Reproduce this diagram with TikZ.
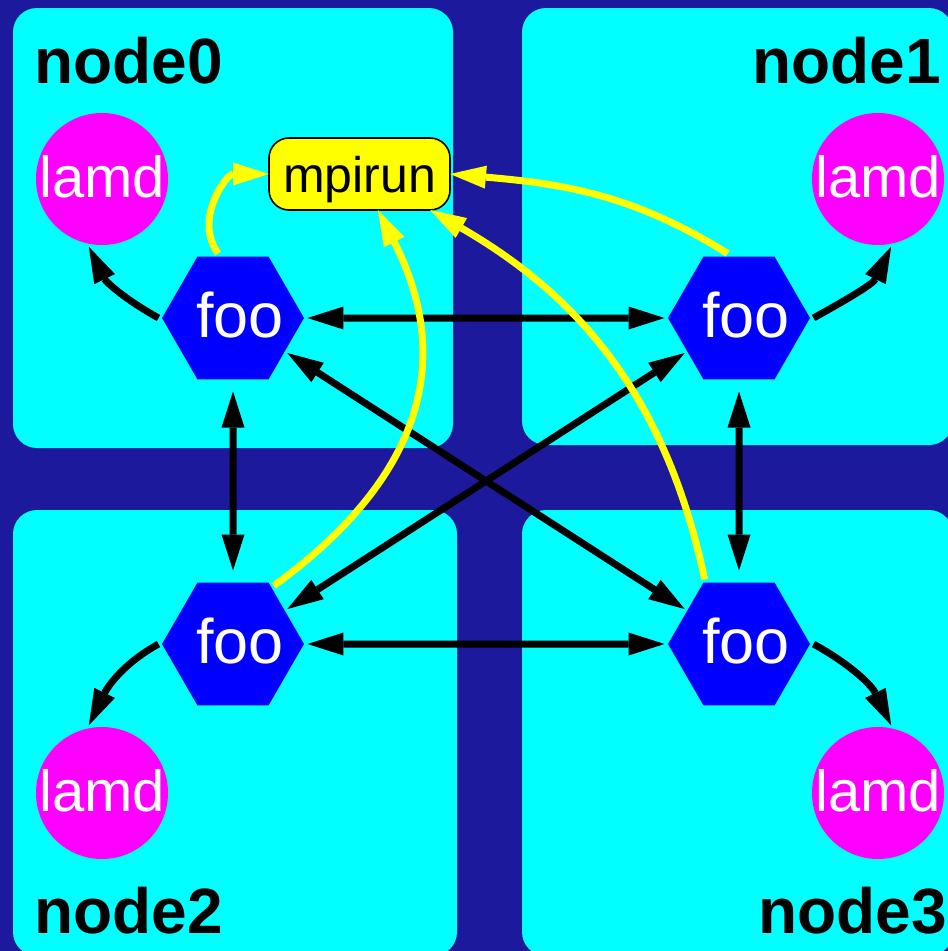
\documentclass[tikz,border=0pt]{standalone}
\usepackage{fontspec}
\setmainfont{Liberation Sans}
\usetikzlibrary{shapes.geometric,arrows.meta}
\definecolor{bgblue}{RGB}{28,25,156}
\definecolor{boxcyan}{RGB}{0,255,255}
\definecolor{lamdmag}{RGB}{255,0,255}
\definecolor{hexblue}{RGB}{0,0,255}
\definecolor{mpiyellow}{RGB}{255,255,0}
\newcommand{\footext}{\makebox[60pt]{\hspace*{14pt}foo}}
\begin{document}
\begin{tikzpicture}[x=1pt,y=1pt,
  clusterbox/.style={fill=boxcyan, draw=none, rounded corners=24pt},
  title/.style={font=\bfseries\fontsize{64}{70}\selectfont, inner sep=0pt, text=black},
  hexnode/.style={regular polygon, regular polygon sides=6, minimum size=142pt, inner sep=0pt, outer sep=3pt, fill=hexblue, text=white, font=\fontsize{63}{70}\selectfont, text height=38pt, text depth=0pt},
  lamdnode/.style={circle, minimum size=132pt, inner sep=0pt, outer sep=3pt, fill=lamdmag, text=white, font=\fontsize{58}{64}\selectfont, text height=36pt, text depth=0pt},
  mpinode/.style={rectangle, rounded corners=20pt, minimum width=181pt, minimum height=72pt, inner sep=0pt, outer sep=0pt, fill=mpiyellow, draw=black, line width=1.6pt, font=\fontsize{50}{56}\selectfont, text height=37pt, text depth=0pt},
  tipb/.tip={Triangle[length=36pt,width=23pt,line width=0pt]},
  linkboth/.style={line width=7pt, draw=black, tipb-tipb},
  linkone/.style={line width=7pt, draw=black, -tipb},
  ylink/.style={line width=7pt, draw=mpiyellow, -tipb},
]
\fill[bgblue] (0,0) rectangle (948,-951);
\useasboundingbox (0,0) rectangle (948,-951);
\clip (0,0) rectangle (948,-951);
% cluster boxes
\fill[clusterbox] (13,-8) rectangle (453,-448);
\fill[clusterbox] (522,-8) rectangle (953,-445);
\fill[clusterbox] (13,-510) rectangle (457,-956);
\fill[clusterbox] (522,-510) rectangle (953,-956);
% titles
\node[title, anchor=base west] (t0) at (34,-83) {node0};
\node[title, anchor=base east] (t1) at (941,-83) {node1};
\node[title, anchor=base west] (t2) at (34,-933) {node2};
\node[title, anchor=base east] (t3) at (947,-933) {node3};
% nodes
\node[lamdnode] (l0) at (102,-179) {lamd};
\node[lamdnode] (l1) at (878,-179) {lamd};
\node[lamdnode] (l2) at (102,-793) {lamd};
\node[lamdnode] (l3) at (878,-793) {lamd};
\node[hexnode] (f0) at (233,-318) {\footext};
\node[hexnode] (f1) at (739,-318) {\footext};
\node[hexnode] (f2) at (233,-644) {\footext};
\node[hexnode] (f3) at (739,-644) {\footext};
\node[mpinode] (mp) at (359.5,-174) {mpirun};
% black links
\draw[linkboth] (f0) -- (f1);
\draw[linkboth, shorten <=9pt, shorten >=9pt] (f0) -- (f2);
\draw[linkboth, shorten <=9pt, shorten >=9pt] (f1) -- (f3);
\draw[linkboth] (f2) -- (f3);
\draw[linkboth] (f0) -- (f3);
\draw[linkboth] (f1) -- (f2);
\draw[linkone] (f0.west) to[out=151,in=-64] (l0.-101);
\draw[linkone] (f1.east) to[out=29,in=-116] (l1.-79);
\draw[linkone] (f2.west) to[out=-151,in=64] (l2.101);
\draw[linkone] (f3.east) to[out=-29,in=116] (l3.79);
% yellow links
\draw[ylink] (f0.103) to[out=126,in=180,looseness=1.15] (mp.west);
\draw[ylink] (f1.100) to[out=148,in=-5] (mp.east);
\draw[ylink] (f2.55) to[out=36,in=-63,looseness=1.15] (mp.-63);
\draw[ylink] (f3.118) to[out=102,in=-30,looseness=1.0] (mp.-27);
\end{tikzpicture}
\end{document}
